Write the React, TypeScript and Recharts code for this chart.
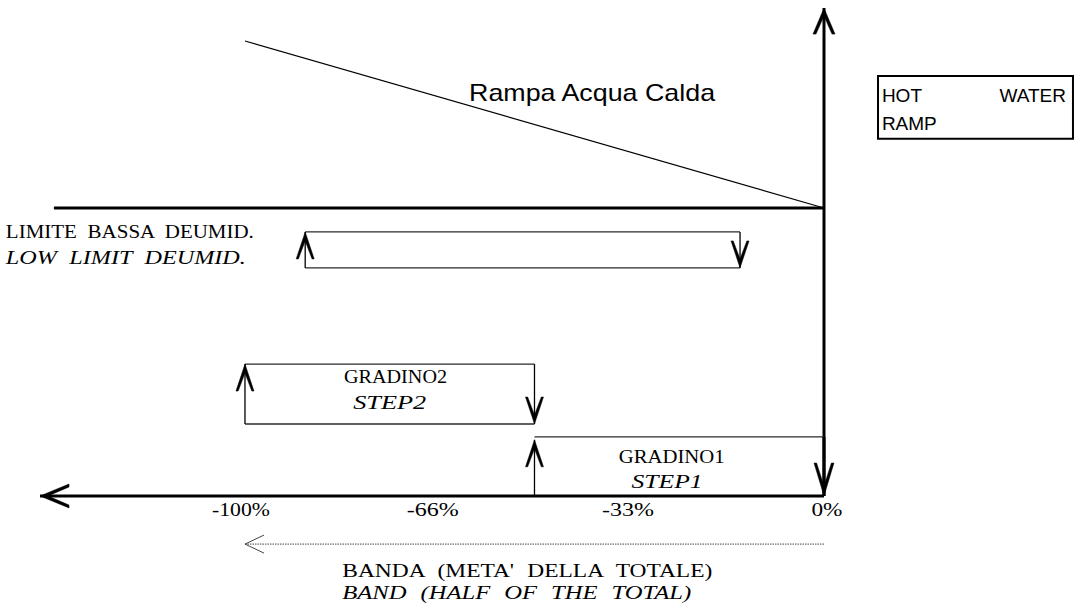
import React from 'react';
import {
  ComposedChart,
  Line,
  XAxis,
  YAxis,
  ReferenceLine,
  ReferenceDot,
  ReferenceArea,
} from 'recharts';

// ---- data (x in % of band, y in relative level units; 100 = set point line) ----
const rampPercent = [-100, 0];
const rampLevel = [158, 100];
const setpointPercent = [-133, 0];
const setpointLevel = 100;
const deumidPercent = [-89.6, -14.5];
const deumidLevel = [79.2, 91.7];
const step2Percent = [-100, -50];
const step2Level = [25, 45.8];
const step1Percent = [-50, 0];
const step1Level = [0, 20.5];
const axisLeftPercent = -135.4;
const axisTopLevel = 169.4;
const bandArrowPercent = [0, -100];
const bandArrowLevel = -16.7;
const tickPercents = [-100, -66, -33, 0];
const tickLabels = ['-100%', '-66%', '-33%', '0%'];
const legendPercent = [9.33, 43.0];
const legendLevel = [124.0, 145.8];

const rampData = rampPercent.map((x, i) => ({ x, y: rampLevel[i] }));

const X_DOMAIN: [number, number] = [-142.31, 43.35];
const Y_DOMAIN: [number, number] = [-38.89, 172.22];

const SERIF = '"Liberation Serif", "DejaVu Serif", serif';
const SANS = '"Liberation Sans", Arial, sans-serif';

type HeadOpt = { len: number; half: number; notch: number; open?: boolean; w?: number };

function head(x1: number, y1: number, x2: number, y2: number, h: HeadOpt, color: string, sw: number) {
  const dx = x2 - x1;
  const dy = y2 - y1;
  const l = Math.hypot(dx, dy) || 1;
  const ux = dx / l;
  const uy = dy / l;
  const nx = -uy;
  const ny = ux;
  const bx = x2 - ux * h.len;
  const by = y2 - uy * h.len;
  if (h.open) {
    return (
      <path
        d={`M${bx + nx * h.half},${by + ny * h.half} L${x2},${y2} L${bx - nx * h.half},${by - ny * h.half}`}
        fill="none"
        stroke={color}
        strokeWidth={sw}
      />
    );
  }
  const w = h.w ?? 2.5;
  const pts = [
    [x2, y2],
    [bx + nx * h.half, by + ny * h.half],
    [bx + nx * (h.half - w), by + ny * (h.half - w)],
    [x2 - ux * h.notch, y2 - uy * h.notch],
    [bx - nx * (h.half - w), by - ny * (h.half - w)],
    [bx - nx * h.half, by - ny * h.half],
  ];
  return <polygon points={pts.map((p) => p.join(',')).join(' ')} fill={color} stroke={color} strokeWidth={0.5} />;
}

function arrowShape(color: string, width: number, h?: HeadOpt, dash?: string, headStroke = 1) {
  return (p: any) => {
    const { x1, y1, x2, y2 } = p;
    return (
      <g>
        <line x1={x1} y1={y1} x2={x2} y2={y2} stroke={color} strokeWidth={width} strokeDasharray={dash} />
        {h ? head(x1, y1, x2, y2, h, color, headStroke) : null}
      </g>
    );
  };
}

type TextOpt = {
  anchor?: 'start' | 'middle' | 'end';
  size: number;
  family: string;
  italic?: boolean;
  length?: number;
  stretch?: boolean;
  dx?: number;
  wordSpacing?: number;
};

function textShape(label: string, opt: TextOpt) {
  return (p: any) => (
    <text
      x={p.cx + (opt.dx ?? 0)}
      y={p.cy}
      textAnchor={opt.anchor ?? 'start'}
      fontFamily={opt.family}
      fontSize={opt.size}
      fontStyle={opt.italic ? 'italic' : 'normal'}
      fill="#000"
      wordSpacing={opt.wordSpacing}
      textLength={opt.length}
      lengthAdjust={opt.length ? (opt.stretch ? 'spacingAndGlyphs' : 'spacing') : undefined}
    >
      {label}
    </text>
  );
}

const THIN = '#2a2a2a';
const smallHead: HeadOpt = { len: 27, half: 9, notch: 9, w: 2.2 };

type Seg = { a: [number, number]; b: [number, number]; color: string; width: number; h?: HeadOpt; dash?: string; hs?: number };

const segments: Seg[] = [
  // main axes
  { a: [0, 0], b: [0, axisTopLevel], color: '#000', width: 3, h: { len: 26, half: 11, notch: 8, w: 3 } },
  { a: [0, 0], b: [axisLeftPercent, 0], color: '#000', width: 3, h: { len: 29, half: 12, notch: 8, w: 3 } },
  // set point line
  { a: [setpointPercent[0], setpointLevel], b: [setpointPercent[1], setpointLevel], color: '#000', width: 3 },
  // low limit deumid box
  { a: [deumidPercent[0], deumidLevel[1]], b: [deumidPercent[1], deumidLevel[1]], color: THIN, width: 1.3 },
  { a: [deumidPercent[0], deumidLevel[0]], b: [deumidPercent[1], deumidLevel[0]], color: THIN, width: 1.3 },
  { a: [deumidPercent[0], deumidLevel[0]], b: [deumidPercent[0], deumidLevel[1]], color: '#000', width: 1.3, h: smallHead },
  { a: [deumidPercent[1], deumidLevel[1]], b: [deumidPercent[1], deumidLevel[0]], color: '#000', width: 1.3, h: smallHead },
  // step 2 box
  { a: [step2Percent[0], step2Level[1]], b: [step2Percent[1], step2Level[1]], color: THIN, width: 1.3 },
  { a: [step2Percent[0], step2Level[0]], b: [step2Percent[1], step2Level[0]], color: THIN, width: 1.3 },
  { a: [step2Percent[0], step2Level[0]], b: [step2Percent[0], step2Level[1]], color: '#000', width: 1.3, h: smallHead },
  { a: [step2Percent[1], step2Level[1]], b: [step2Percent[1], step2Level[0]], color: '#000', width: 1.3, h: smallHead },
  // step 1
  { a: [step1Percent[0], step1Level[1]], b: [step1Percent[1], step1Level[1]], color: THIN, width: 1.3 },
  { a: [step1Percent[0], step1Level[0]], b: [step1Percent[0], step1Level[1] - 1], color: '#000', width: 1.3, h: smallHead },
  { a: [step1Percent[1], step1Level[1]], b: [step1Percent[1], step1Level[0]], color: '#000', width: 3, h: { len: 33, half: 10, notch: 10, w: 2.6 } },
  // band arrow (dotted)
  { a: [bandArrowPercent[0], bandArrowLevel], b: [bandArrowPercent[1], bandArrowLevel], color: '#444', width: 1, dash: '1.5 1', h: { len: 19, half: 9, notch: 0, open: true }, hs: 1 },
];

type Lbl = TextOpt & { x: number; y: number; text: string };

const tickDx = [-4, -9, -5, 3];

const labels: Lbl[] = [
  { x: -61.3, y: 137.2, text: 'Rampa Acqua Calda', size: 24, family: SANS, length: 246, stretch: true },
  { x: 10.0, y: 136.8, text: 'HOT', size: 19, family: SANS },
  { x: 41.8, y: 136.8, text: 'WATER', anchor: 'end', size: 19, family: SANS },
  { x: 10.0, y: 127.1, text: 'RAMP', size: 19, family: SANS },
  { x: -141.3, y: 89.6, text: 'LIMITE BASSA DEUMID.', size: 19, family: SERIF, length: 248, stretch: true, wordSpacing: 5 },
  { x: -141.3, y: 80.6, text: 'LOW LIMIT DEUMID.', size: 19, family: SERIF, italic: true, length: 240, stretch: true, wordSpacing: 5 },
  { x: -74, y: 39.2, text: 'GRADINO2', anchor: 'middle', size: 18, family: SERIF, length: 103, stretch: true },
  { x: -75, y: 30.2, text: 'STEP2', anchor: 'middle', size: 19, family: SERIF, italic: true, length: 73, stretch: true },
  { x: -26.3, y: 11.5, text: 'GRADINO1', anchor: 'middle', size: 18, family: SERIF, length: 106, stretch: true },
  { x: -27.1, y: 2.8, text: 'STEP1', anchor: 'middle', size: 19, family: SERIF, italic: true, length: 71, stretch: true },
  { x: -83.2, y: -28.1, text: "BANDA (META' DELLA TOTALE)", size: 19, family: SERIF, length: 370, stretch: true, wordSpacing: 6 },
  { x: -83.2, y: -35.8, text: 'BAND (HALF OF THE TOTAL)', size: 19, family: SERIF, italic: true, length: 349, stretch: true, wordSpacing: 6 },
  ...tickPercents.map((x, i) => ({
    x,
    y: -6.9,
    text: tickLabels[i],
    anchor: 'middle' as const,
    size: 18,
    family: SERIF,
    dx: tickDx[i],
    length: i === 3 ? 31 : i === 0 ? 58 : 52,
    stretch: true,
  })),
];

export default function App() {
  return (
    <div style={{ position: 'absolute', left: 0, top: 0, width: 1075, height: 608, background: '#fff' }}>
      <ComposedChart width={1075} height={608} data={rampData} margin={{ top: 0, right: 0, bottom: 0, left: 0 }}>
        <XAxis dataKey="x" type="number" domain={X_DOMAIN} allowDataOverflow hide />
        <YAxis type="number" domain={Y_DOMAIN} allowDataOverflow hide />
        <ReferenceArea
          x1={legendPercent[0]}
          x2={legendPercent[1]}
          y1={legendLevel[0]}
          y2={legendLevel[1]}
          fill="#fff"
          fillOpacity={1}
          stroke="#000"
          strokeWidth={2}
          ifOverflow="visible"
        />
        <Line
          type="linear"
          dataKey="y"
          stroke="#000"
          strokeWidth={1.2}
          dot={false}
          activeDot={false}
          legendType="none"
          isAnimationActive={false}
        />
        {segments.map((s, i) => (
          <ReferenceLine
            key={'s' + i}
            segment={[
              { x: s.a[0], y: s.a[1] },
              { x: s.b[0], y: s.b[1] },
            ]}
            ifOverflow="visible"
            shape={arrowShape(s.color, s.width, s.h, s.dash, s.hs)}
          />
        ))}
        {labels.map((l, i) => (
          <ReferenceDot
            key={'l' + i}
            x={l.x}
            y={l.y}
            r={0}
            ifOverflow="visible"
            shape={textShape(l.text, l)}
          />
        ))}
      </ComposedChart>
    </div>
  );
}
